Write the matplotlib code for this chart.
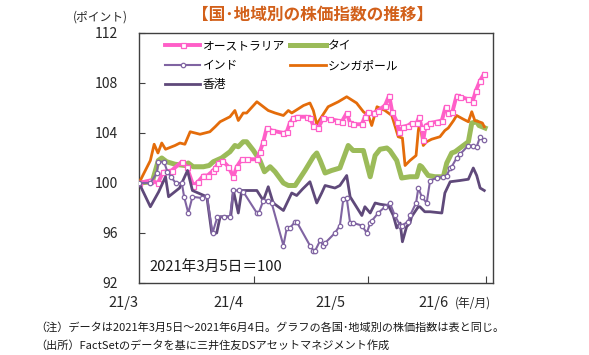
import matplotlib
matplotlib.use("Agg")
import matplotlib.pyplot as plt
import matplotlib.transforms as mtransforms

plt.rcParams['font.family'] = ['Noto Sans CJK JP', 'DejaVu Sans']

# x = calendar days since 2021-03-05
aus_x = [0, 3, 5, 6.4, 8.6, 11.3, 12.6, 14.3, 15.6, 17, 18.1, 19.6, 20.1, 20.9, 22, 23.6, 24.9, 25.8,
         27.1, 28.4, 31.1, 31.9, 32.8, 33.7, 35, 38.1, 39, 39.8, 40.7, 41.6, 44.2, 45.1, 46, 47.3,
         48.6, 50.4, 52.2, 53.5, 54.8, 55.7, 56.5, 58.8, 59.6, 60.5, 61.9, 63.1, 64.9, 66, 66.8, 68,
         68.6, 69.7, 71, 71.9, 73.3, 73.9, 74.6, 75, 75.6, 76.8, 78.5, 79.9, 80.9, 81.6, 82.7, 83.8,
         84.7, 86.9, 88, 88.9, 90, 91]
aus_y = [100.0, 100.2, 100.0, 100.9, 101.0, 101.7, 101.3, 99.8, 100.1, 100.6, 100.6, 101.0, 101.2, 101.6,
         101.8, 101.3, 100.5, 101.3, 101.9, 101.9, 101.9, 102.5, 103.3, 104.4, 104.2, 104.0, 104.1, 104.8,
         105.2, 105.3, 105.3, 105.2, 104.6, 104.4, 105.2, 105.1, 105.0, 104.9, 105.6, 104.8, 104.7, 104.7,
         105.3, 105.7, 105.6, 105.8, 106.2, 107.0, 105.7, 104.9, 104.1, 104.5, 104.6, 104.8, 104.8, 105.3,
         104.4, 103.4, 104.6, 104.8, 104.9, 105.0, 106.1, 105.6, 105.7, 107.0, 106.9, 106.7, 106.5, 107.4,
         108.2, 108.7]

tha_x = [0, 3.5, 5.1, 6, 7.3, 9.5, 12.1, 13, 14.3, 17, 18.5, 19.6, 21.8, 24, 25.3, 26.2, 27.5, 28.4,
         30.2, 31.9, 33.1, 34.6, 35.9, 38.1, 39.4, 41.2, 43.8, 46, 46.9, 47.8, 49.1, 50.8, 53, 55.2,
         56.5, 59.2, 61, 62.3, 63.6, 65.4, 66.2, 68, 69.3, 71.5, 73.3, 74.1, 74.6, 76.3, 78.1, 80.3,
         81.2, 82.5, 83.4, 84.7, 86.9, 87.8, 89.1, 89.7, 91.3]
tha_y = [100.0, 100.1, 101.8, 102.0, 101.7, 101.5, 101.4, 101.6, 101.3, 101.3, 101.4, 101.7, 102.0, 102.5,
         103.0, 102.9, 103.3, 103.3, 102.6, 101.8, 100.9, 101.3, 100.9, 100.0, 99.8, 99.8, 101.0, 102.1,
         102.4, 101.8, 100.8, 101.0, 101.2, 103.0, 102.6, 102.6, 100.5, 102.2, 102.7, 102.8, 102.6, 101.8,
         100.4, 100.5, 100.5, 101.4, 101.3, 100.6, 100.5, 100.5, 101.6, 102.4, 102.5, 102.8, 103.3, 104.8,
         104.9, 104.6, 104.4]

ind_x = [0, 3, 4.7, 5.1, 6.6, 7.5, 8.4, 9.7, 11.3, 11.9, 13, 14.1, 16.5, 17.9, 19.4, 20.7, 22.5, 24,
         24.9, 26.4, 27.5, 31.1, 31.6, 32.8, 34.1, 35, 38.1, 39, 39.8, 41.2, 41.6, 45.1, 46, 46.5,
         47.8, 48.6, 49.1, 51.7, 53, 53.9, 54.8, 55.7, 56.5, 58.8, 60.1, 61, 61.5, 63.1, 64.9, 66.2,
         67.5, 68.9, 69.3, 71, 71.5, 73.1, 73.7, 74.6, 75.9, 76.8, 78.5, 80.3, 81.2, 82.1, 82.5, 83.8,
         84.7, 86.9, 88.2, 89.1, 90, 91]
ind_y = [100.0, 100.0, 100.8, 101.7, 101.7, 100.9, 100.5, 100.0, 100.0, 98.9, 97.6, 98.9, 98.8, 99.0,
         96.0, 97.3, 97.3, 97.3, 99.4, 99.4, 99.3, 97.6, 97.6, 98.6, 98.6, 98.4, 95.0, 96.4, 96.4, 96.9,
         96.9, 95.0, 94.6, 94.6, 95.4, 95.0, 95.2, 96.0, 96.6, 98.7, 98.8, 96.8, 96.8, 96.6, 96.0, 96.8,
         97.0, 97.6, 98.1, 98.4, 97.4, 96.6, 96.6, 96.9, 97.4, 98.4, 99.6, 98.9, 98.4, 100.2, 100.4,
         100.5, 100.6, 101.2, 101.3, 102.0, 102.3, 103.0, 103.0, 102.9, 103.7, 103.4]

sgp_x = [0, 3, 4, 5, 6, 7, 9.5, 10.8, 12.1, 13.5, 16.1, 18.7, 20.1, 21.4, 24, 25.3, 26.2, 27.5, 28.4,
         31.1, 34.1, 35.9, 38.1, 39.4, 40.3, 43.4, 45.1, 46, 46.9, 48.2, 49.9, 52.6, 54.8, 57.4, 59.2,
         60.5, 61.4, 62.8, 64.9, 66.7, 67.5, 68.4, 69.5, 70.2, 71.5, 73.1, 73.7, 74.1, 75, 75.9, 77.2,
         79.4, 80.7, 81.6, 83, 83.8, 85.6, 86.9, 87.8, 88.6, 89.7, 90.6, 91.1]
sgp_y = [100.0, 101.8, 103.1, 102.4, 103.2, 102.7, 103.0, 103.2, 103.1, 104.1, 103.9, 104.1, 104.5, 104.9,
         105.3, 105.8, 105.0, 105.6, 105.6, 106.5, 105.8, 105.6, 105.4, 105.8, 105.6, 106.2, 106.4, 105.8,
         104.7, 105.3, 106.1, 106.5, 106.9, 106.4, 105.7, 105.4, 104.6, 106.1, 105.8, 105.4, 104.6, 103.7,
         103.6, 101.4, 101.8, 102.2, 104.2, 104.9, 103.0, 103.3, 103.5, 103.7, 104.2, 104.4, 105.0, 105.4,
         105.1, 104.9, 105.7, 105.0, 104.9, 104.8, 104.5]

hkg_x = [0, 3, 5.2, 7, 7.8, 10.7, 12.8, 14.1, 17.9, 19.2, 20.5, 21.4, 24.2, 24.9, 26.2, 27.1, 31.1,
         32.8, 34.1, 35.4, 38.1, 40.3, 41.6, 43.1, 45.1, 46.9, 48.2, 49.1, 51.7, 53, 54.8, 55.7, 58.8,
         59.6, 61, 62.3, 63.6, 65.8, 67.1, 68, 68.9, 69.5, 70.6, 71.5, 71.9, 73.7, 74.1, 75.4, 76.8,
         79.9, 80.7, 82.1, 84.7, 86.9, 88.2, 89.1, 90, 91.1]
hkg_y = [100.0, 98.1, 99.3, 100.5, 98.9, 99.6, 101.0, 99.4, 98.9, 96.0, 96.0, 97.3, 97.3, 99.4, 97.6,
         99.4, 99.4, 98.6, 99.7, 98.4, 97.8, 99.2, 99.0, 99.5, 100.1, 98.4, 99.2, 99.8, 99.6, 99.8, 100.6,
         98.9, 97.4, 98.1, 97.6, 98.4, 98.3, 98.2, 97.4, 96.4, 96.8, 95.3, 96.5, 96.8, 97.3, 98.1, 98.1,
         97.7, 97.7, 97.6, 99.2, 100.1, 100.2, 100.3, 101.2, 100.6, 99.6, 99.4]

names = ['オーストラリア', 'タイ', 'インド', 'シンガポール', '香港']
month_labels = ['21/3', '21/4', '21/5', '21/6']
month_label_days = [-4.0, 23.5, 50.4, 77.8]
month_tick_days = [30.3, 60.4, 91.5]
yticks = [92, 96, 100, 104, 108, 112]

fig = plt.figure(figsize=(5.89, 3.55), dpi=100)
ax = fig.add_axes([139/589, 1-283/355, (493-139)/589, (283-33)/355])

c_aus = '#FF5FC8'
c_tha = '#9BBB59'
c_ind = '#8064A2'
c_sgp = '#E46C0A'
c_hkg = '#5F497A'

l_tha, = ax.plot(tha_x, tha_y, color=c_tha, lw=3.6, solid_joinstyle='round', zorder=2)
l_sgp, = ax.plot(sgp_x, sgp_y, color=c_sgp, lw=2.0, zorder=3)
l_aus, = ax.plot(aus_x, aus_y, color=c_aus, lw=2.8, marker='s', ms=3.6, mfc='white', mec=c_aus,
                 mew=0.9, zorder=4)
l_hkg, = ax.plot(hkg_x, hkg_y, color=c_hkg, lw=2.0, zorder=5)
l_ind, = ax.plot(ind_x, ind_y, color=c_ind, lw=1.5, marker='o', ms=3.2, mfc='white', mec=c_ind,
                 mew=0.9, zorder=6)

ax.set_xlim(0, 93.4)
ax.set_ylim(92, 112)
ax.set_yticks(yticks)
ax.set_yticklabels([str(v) for v in yticks])
ax.tick_params(axis='y', direction='in', length=4, width=0.8, color='#404040', pad=15,
               labelsize=10, labelcolor='#262626')
ax.set_xticks(month_tick_days)
ax.set_xticklabels([])
ax.tick_params(axis='x', direction='in', length=5, width=0.8, color='#404040')
for s in ax.spines.values():
    s.set_color('#404040')
    s.set_linewidth(1.0)

trans = mtransforms.blended_transform_factory(ax.transData, ax.transAxes)
for lab, d in zip(month_labels, month_label_days):
    ax.text(d, -0.08, lab, transform=trans, ha='center', va='center', fontsize=10.5,
            color='#262626', clip_on=False)
ax.text(93.0, -0.08, '(年/月)', transform=trans, ha='right', va='center', fontsize=8.5,
        color='#262626', clip_on=False)

handles = [l_aus, l_ind, l_hkg, l_tha, l_sgp]
labels = [names[0], names[2], names[4], names[1], names[3]]
leg = ax.legend(handles, labels, ncol=2, loc='upper left', bbox_to_anchor=(0.055, 1.0),
                frameon=False, fontsize=8.5, handlelength=3.0, handletextpad=0.2,
                columnspacing=0.45, labelspacing=0.55, borderaxespad=0.15, numpoints=1)

ax.text(0.03, 0.065, '2021年3月5日＝100', transform=ax.transAxes, fontsize=10.6,
        color='#1a1a1a', ha='left', va='center')

fig.text(100/589, 1-17/355, '(ポイント)', fontsize=8.5, color='#262626', ha='center', va='center')
fig.text(313/589, 1-15/355, '【国･地域別の株価指数の推移】', fontsize=12, fontweight='bold',
         color='#D2601A', ha='center', va='center')

fig.text(35/589, 1-327/355, '（注）データは2021年3月5日～2021年6月4日。グラフの各国･地域別の株価指数は表と同じ。',
         fontsize=8.0, color='#1a1a1a', ha='left', va='center')
fig.text(35/589, 1-345/355, '（出所）FactSetのデータを基に三井住友DSアセットマネジメント作成',
         fontsize=8.0, color='#1a1a1a', ha='left', va='center')

fig.savefig('out.png', dpi=100)
